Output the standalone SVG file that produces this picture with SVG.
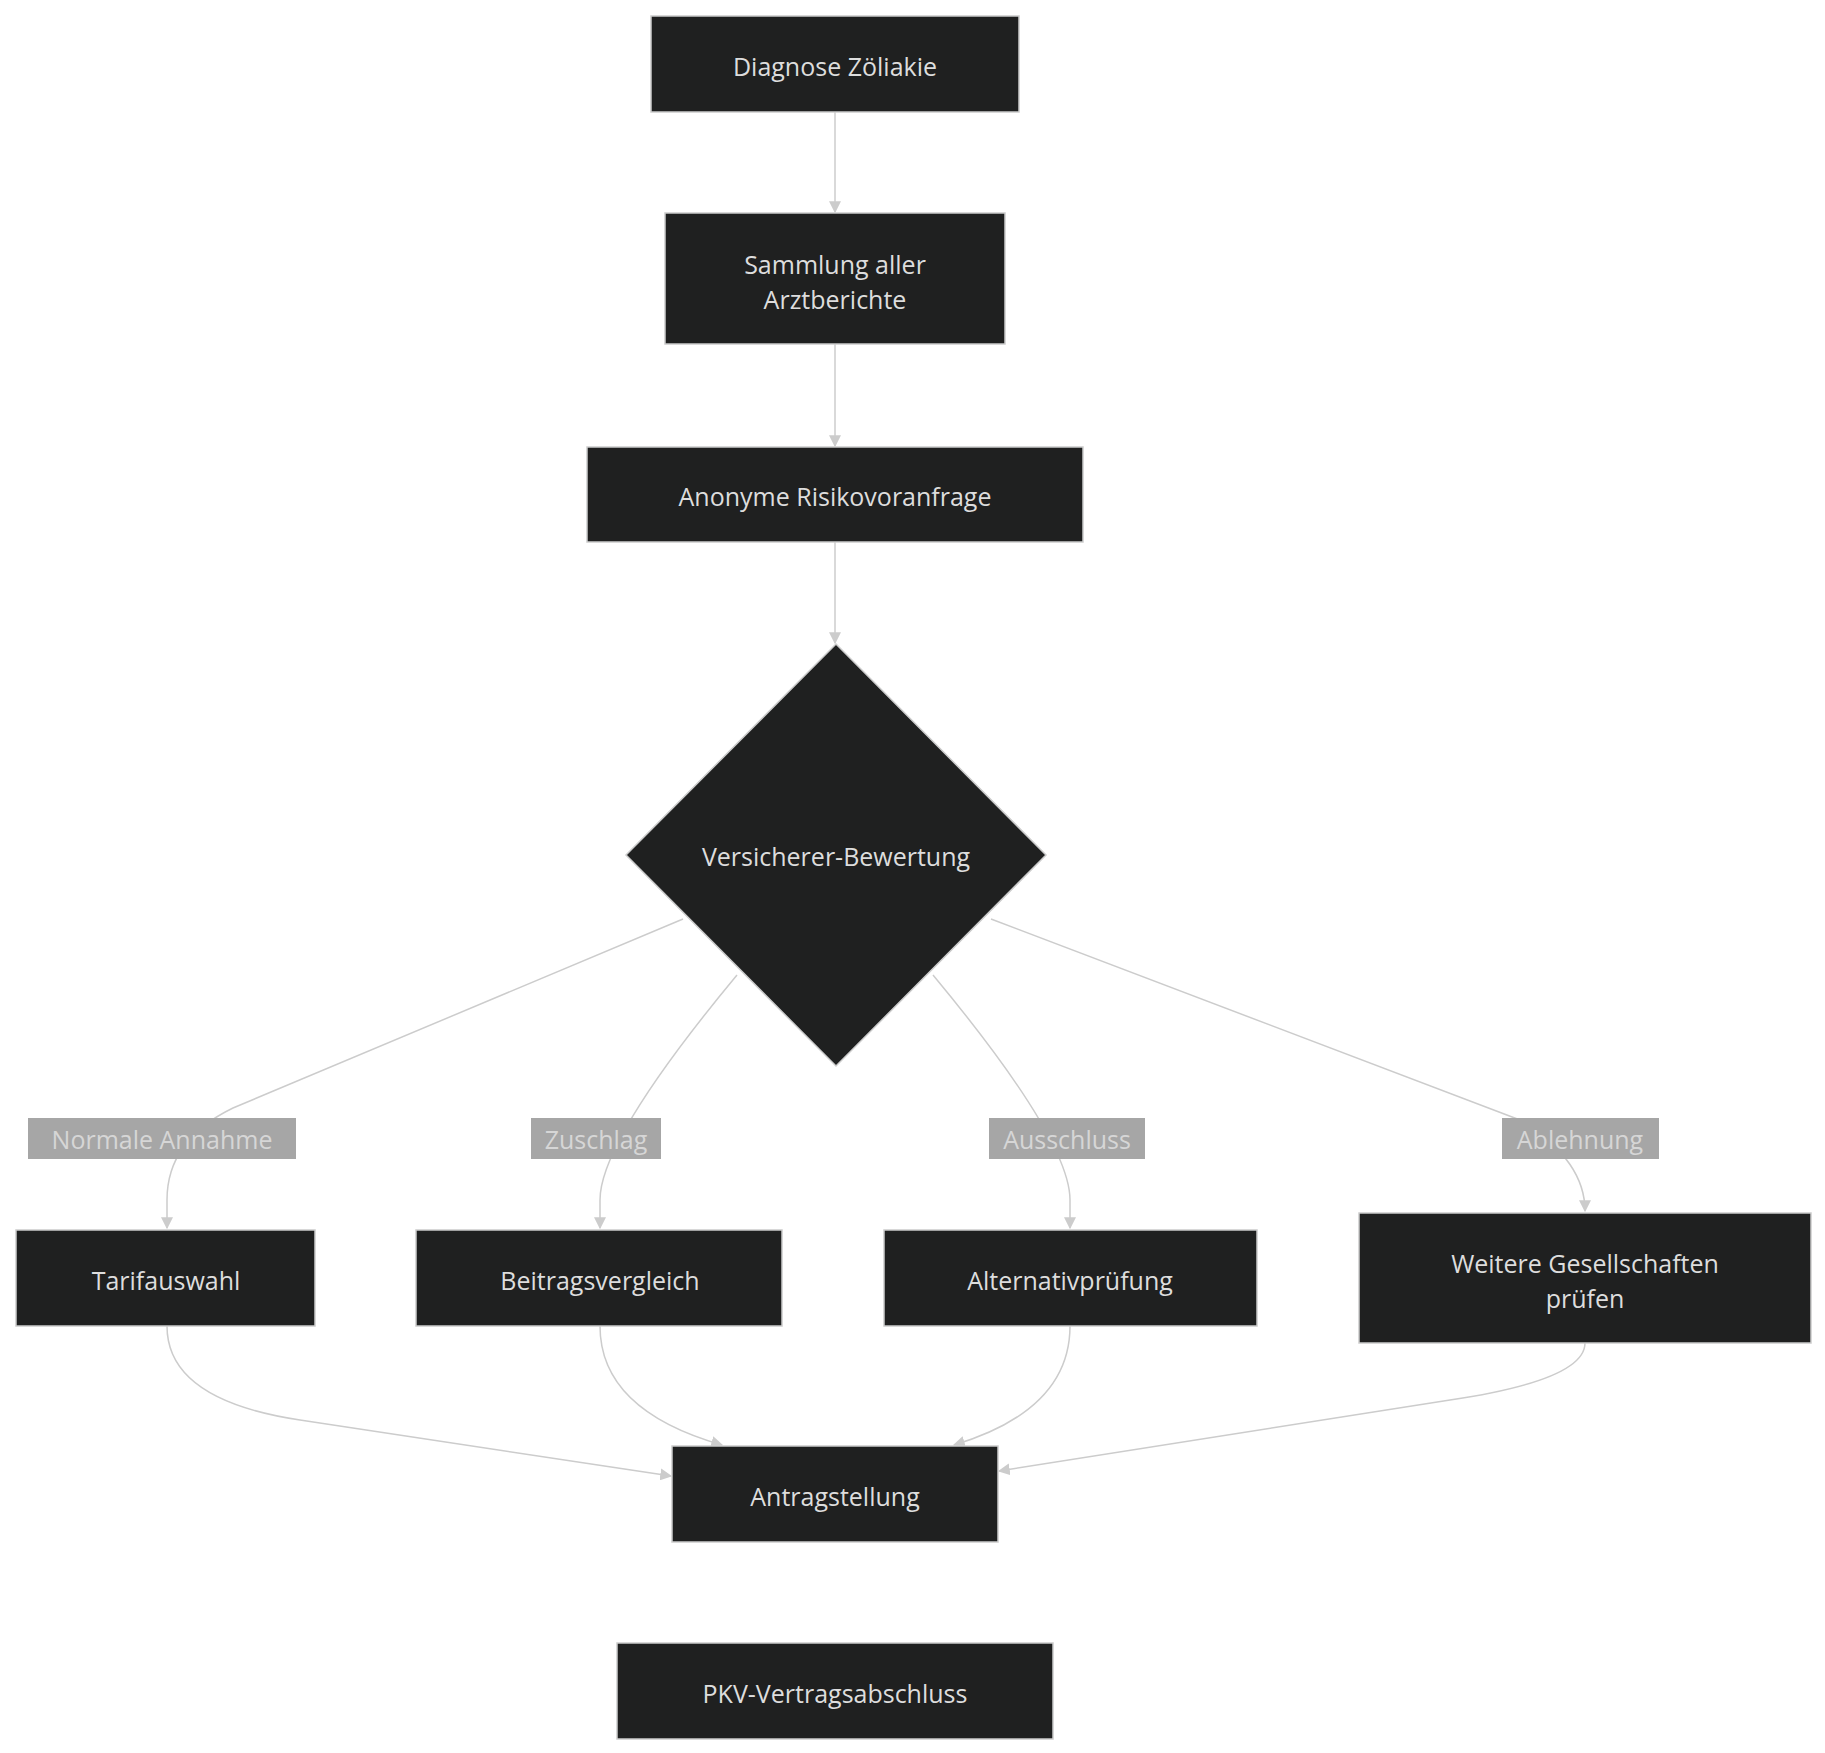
<svg xmlns="http://www.w3.org/2000/svg" width="1825" height="1753" viewBox="0 0 1825 1753">
<style>
.n{fill:#1f2020;stroke:#cccccc;stroke-width:1.5}
.t{fill:#dddddd;font-family:"Open Sans","DejaVu Sans",sans-serif;font-size:25px;text-anchor:middle;dominant-baseline:central}
.e{fill:none;stroke:#cccccc;stroke-width:1.5;marker-end:url(#a)}
.lb{fill:#a6a6a6}
.lt{fill:#d6d6d6;font-family:"Open Sans","DejaVu Sans",sans-serif;font-size:25px;text-anchor:middle;dominant-baseline:central}
</style>
<defs><marker id="a" viewBox="0 0 10 10" refX="9" refY="5" markerWidth="8" markerHeight="8" orient="auto"><path d="M0,0L10,5L0,10z" fill="#cccccc"/></marker></defs>
<rect width="1825" height="1753" fill="#ffffff"/>
<g id="edges">
<path class="e" d="M835,112V212"/>
<path class="e" d="M835,344V446"/>
<path class="e" d="M835,542V643"/>
<path class="e" d="M683,919L233,1108Q167,1140 167,1200V1228"/>
<path class="e" d="M737,975Q600,1140 600,1200V1228"/>
<path class="e" d="M933,975Q1070,1140 1070,1200V1228"/>
<path class="e" d="M991,919L1520,1120Q1585,1160 1585,1211"/>
<path class="e" d="M167,1326Q167,1400 300,1420L671,1476"/>
<path class="e" d="M600,1326Q600,1410 722,1445"/>
<path class="e" d="M1070,1326Q1070,1410 954,1445"/>
<path class="e" d="M1585,1343Q1585,1380 1450,1400L999,1471"/>
</g>
<g id="labels">
<rect class="lb" x="28" y="1118" width="268" height="41"/><text class="lt" x="162" y="1139">Normale Annahme</text>
<rect class="lb" x="531" y="1118" width="130" height="41"/><text class="lt" x="596" y="1139">Zuschlag</text>
<rect class="lb" x="989" y="1118" width="156" height="41"/><text class="lt" x="1067" y="1139">Ausschluss</text>
<rect class="lb" x="1502" y="1118" width="157" height="41"/><text class="lt" x="1580" y="1139">Ablehnung</text>
</g>
<g id="n1"><rect class="n" x="651" y="16" width="368" height="96"/><text class="t" x="835" y="66">Diagnose Zöliakie</text></g>
<g id="n2"><rect class="n" x="665" y="213" width="340" height="131"/><text class="t" x="835" y="264">Sammlung aller</text><text class="t" x="835" y="299">Arztberichte</text></g>
<g id="n3"><rect class="n" x="587" y="447" width="496" height="95"/><text class="t" x="835" y="496">Anonyme Risikovoranfrage</text></g>
<g id="n4"><polygon class="n" points="836,644 1046,855 836,1066 626,855"/><text class="t" x="836" y="856">Versicherer-Bewertung</text></g>
<g id="n5"><rect class="n" x="16" y="1230" width="299" height="96"/><text class="t" x="166" y="1280">Tarifauswahl</text></g>
<g id="n6"><rect class="n" x="416" y="1230" width="366" height="96"/><text class="t" x="600" y="1280">Beitragsvergleich</text></g>
<g id="n7"><rect class="n" x="884" y="1230" width="373" height="96"/><text class="t" x="1070" y="1280">Alternativprüfung</text></g>
<g id="n8"><rect class="n" x="1359" y="1213" width="452" height="130"/><text class="t" x="1585" y="1263">Weitere Gesellschaften</text><text class="t" x="1585" y="1298">prüfen</text></g>
<g id="n9"><rect class="n" x="672" y="1446" width="326" height="96"/><text class="t" x="835" y="1496">Antragstellung</text></g>
<g id="n10"><rect class="n" x="617" y="1643" width="436" height="96"/><text class="t" x="835" y="1693">PKV-Vertragsabschluss</text></g>
</svg>
